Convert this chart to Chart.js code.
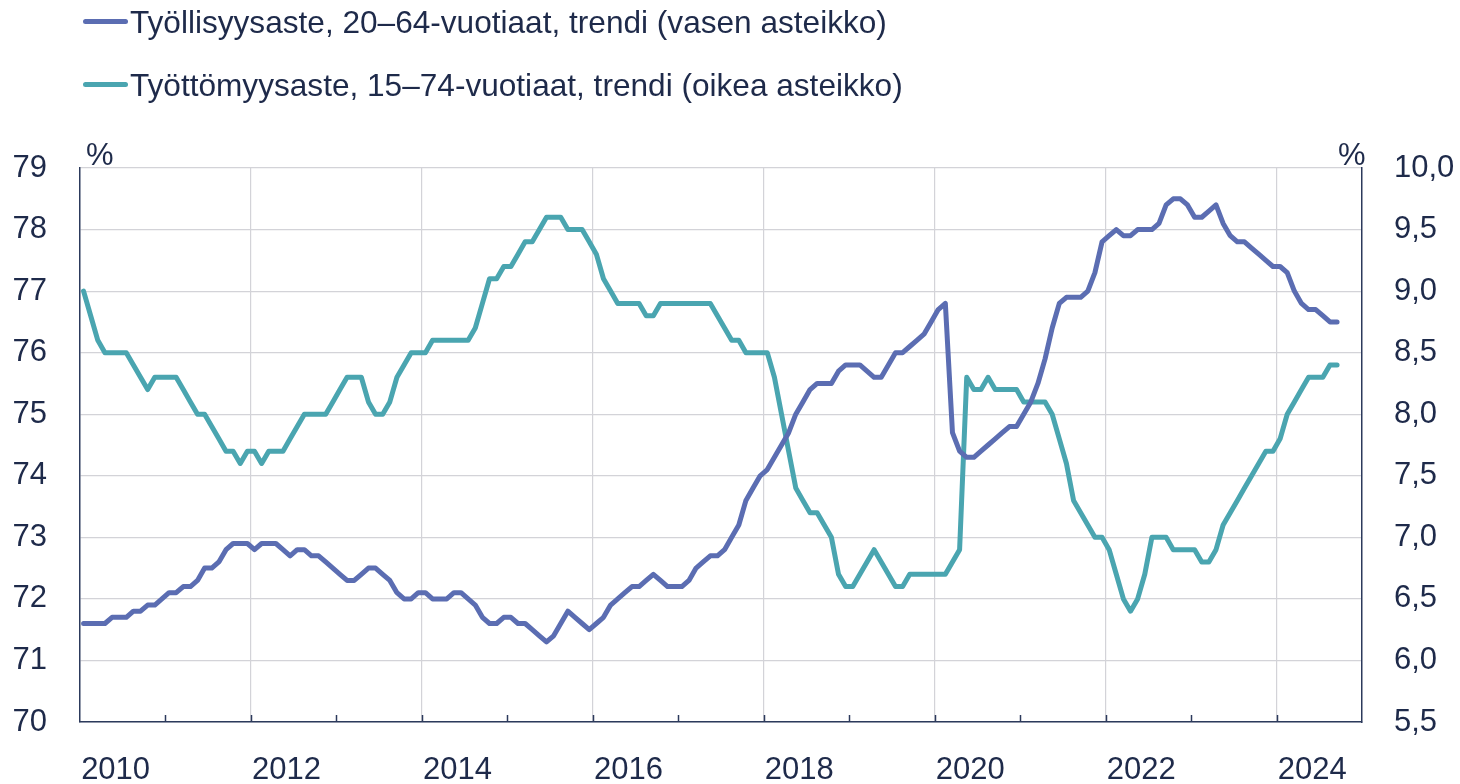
<!DOCTYPE html>
<html lang="fi">
<head>
<meta charset="utf-8">
<title>Työllisyysaste ja työttömyysaste</title>
<script src="https://cdn.jsdelivr.net/npm/chart.js@4.4.1/dist/chart.umd.min.js"></script>
<style>
  html, body { margin: 0; padding: 0; background: #fff; }
  #wrap { position: relative; width: 1460px; height: 784px; overflow: hidden;
          font-family: "Liberation Sans", Arial, sans-serif; color: #1e2a4a; }
  #chart { position: absolute; left: 0; top: 0; }
  .legend-item { position: absolute; left: 83px; height: 44px; line-height: 44px;
                 font-size: 31.6px; white-space: nowrap; padding-left: 47px; }
  .legend-item .swatch { position: absolute; left: 0; top: 19px; width: 45px; height: 5px; border-radius: 3px; }
  .unit { position: absolute; top: 139px; font-size: 31px; line-height: 31px; }
</style>
</head>
<body>
<div id="wrap">
  <canvas id="chart" width="1460" height="784"></canvas>
  <div class="legend-item" style="top:0"><span class="swatch" style="background:#5b6db2"></span>Työllisyysaste, 20–64-vuotiaat, trendi (vasen asteikko)</div>
  <div class="legend-item" style="top:63px"><span class="swatch" style="background:#4aa5b0"></span>Työttömyysaste, 15–74-vuotiaat, trendi (oikea asteikko)</div>
  <div class="unit" style="left:86px">%</div>
  <div class="unit" style="left:1338px">%</div>
</div>
<script>
// monthly trend values, Jan 2010 onwards
const yearLabels = ["2010", "2012", "2014", "2016", "2018", "2020", "2022", "2024"];

const employment = [
  71.6, 71.6, 71.6, 71.6, 71.7, 71.7, 71.7, 71.8, 71.8, 71.9,
  71.9, 72.0, 72.1, 72.1, 72.2, 72.2, 72.3, 72.5, 72.5, 72.6,
  72.8, 72.9, 72.9, 72.9, 72.8, 72.9, 72.9, 72.9, 72.8, 72.7,
  72.8, 72.8, 72.7, 72.7, 72.6, 72.5, 72.4, 72.3, 72.3, 72.4,
  72.5, 72.5, 72.4, 72.3, 72.1, 72.0, 72.0, 72.1, 72.1, 72.0,
  72.0, 72.0, 72.1, 72.1, 72.0, 71.9, 71.7, 71.6, 71.6, 71.7,
  71.7, 71.6, 71.6, 71.5, 71.4, 71.3, 71.4, 71.6, 71.8, 71.7,
  71.6, 71.5, 71.6, 71.7, 71.9, 72.0, 72.1, 72.2, 72.2, 72.3,
  72.4, 72.3, 72.2, 72.2, 72.2, 72.3, 72.5, 72.6, 72.7, 72.7,
  72.8, 73.0, 73.2, 73.6, 73.8, 74.0, 74.1, 74.3, 74.5, 74.7,
  75.0, 75.2, 75.4, 75.5, 75.5, 75.5, 75.7, 75.8, 75.8, 75.8,
  75.7, 75.6, 75.6, 75.8, 76.0, 76.0, 76.1, 76.2, 76.3, 76.5,
  76.7, 76.8, 74.7, 74.4, 74.3, 74.3, 74.4, 74.5, 74.6, 74.7,
  74.8, 74.8, 75.0, 75.2, 75.5, 75.9, 76.4, 76.8, 76.9, 76.9,
  76.9, 77.0, 77.3, 77.8, 77.9, 78.0, 77.9, 77.9, 78.0, 78.0,
  78.0, 78.1, 78.4, 78.5, 78.5, 78.4, 78.2, 78.2, 78.3, 78.4,
  78.1, 77.9, 77.8, 77.8, 77.7, 77.6, 77.5, 77.4, 77.4, 77.3,
  77.0, 76.8, 76.7, 76.7, 76.6, 76.5, 76.5
];

const unemployment = [
  9.0, 8.8, 8.6, 8.5, 8.5, 8.5, 8.5, 8.4, 8.3, 8.2,
  8.3, 8.3, 8.3, 8.3, 8.2, 8.1, 8.0, 8.0, 7.9, 7.8,
  7.7, 7.7, 7.6, 7.7, 7.7, 7.6, 7.7, 7.7, 7.7, 7.8,
  7.9, 8.0, 8.0, 8.0, 8.0, 8.1, 8.2, 8.3, 8.3, 8.3,
  8.1, 8.0, 8.0, 8.1, 8.3, 8.4, 8.5, 8.5, 8.5, 8.6,
  8.6, 8.6, 8.6, 8.6, 8.6, 8.7, 8.9, 9.1, 9.1, 9.2,
  9.2, 9.3, 9.4, 9.4, 9.5, 9.6, 9.6, 9.6, 9.5, 9.5,
  9.5, 9.4, 9.3, 9.1, 9.0, 8.9, 8.9, 8.9, 8.9, 8.8,
  8.8, 8.9, 8.9, 8.9, 8.9, 8.9, 8.9, 8.9, 8.9, 8.8,
  8.7, 8.6, 8.6, 8.5, 8.5, 8.5, 8.5, 8.3, 8.0, 7.7,
  7.4, 7.3, 7.2, 7.2, 7.1, 7.0, 6.7, 6.6, 6.6, 6.7,
  6.8, 6.9, 6.8, 6.7, 6.6, 6.6, 6.7, 6.7, 6.7, 6.7,
  6.7, 6.7, 6.8, 6.9, 8.3, 8.2, 8.2, 8.3, 8.2, 8.2,
  8.2, 8.2, 8.1, 8.1, 8.1, 8.1, 8.0, 7.8, 7.6, 7.3,
  7.2, 7.1, 7.0, 7.0, 6.9, 6.7, 6.5, 6.4, 6.5, 6.7,
  7.0, 7.0, 7.0, 6.9, 6.9, 6.9, 6.9, 6.8, 6.8, 6.9,
  7.1, 7.2, 7.3, 7.4, 7.5, 7.6, 7.7, 7.7, 7.8, 8.0,
  8.1, 8.2, 8.3, 8.3, 8.3, 8.4, 8.4
];

const BLUE = "#5b6db2";
const TEAL = "#4aa5b0";
const TEXT = "#1e2a4a";
const AXIS = "#2c3a5c";
const GRID = "#d3d3d8";
const MONTHS = 180; // Jan 2010 .. Dec 2024

// each month occupies one slot, point sits in the middle of it
const toPoints = arr => arr.map((v, i) => ({ x: i + 0.5, y: v }));

// year-boundary marks pointing up into the plot
const innerTicks = {
  id: "innerTicks",
  afterDraw(chart) {
    const { ctx, chartArea, scales } = chart;
    ctx.save();
    ctx.strokeStyle = AXIS;
    ctx.lineWidth = 1.5;
    for (let m = 12; m < MONTHS; m += 12) {
      const px = Math.round(scales.x.getPixelForValue(m)) + 0.5;
      ctx.beginPath();
      ctx.moveTo(px, chartArea.bottom);
      ctx.lineTo(px, chartArea.bottom - 7);
      ctx.stroke();
    }
    ctx.restore();
  }
};

Chart.defaults.font.family = '"Liberation Sans", Arial, sans-serif';
Chart.defaults.color = TEXT;

new Chart(document.getElementById("chart"), {
  type: "line",
  data: {
    datasets: [
      { label: "Työllisyysaste, 20–64-vuotiaat, trendi (vasen asteikko)", data: toPoints(employment),
        yAxisID: "y", borderColor: BLUE, borderWidth: 5 },
      { label: "Työttömyysaste, 15–74-vuotiaat, trendi (oikea asteikko)", data: toPoints(unemployment),
        yAxisID: "y1", borderColor: TEAL, borderWidth: 5 }
    ]
  },
  options: {
    responsive: false,
    animation: false,
    layout: { padding: { top: 168, left: 0, right: 0, bottom: 0 } },
    elements: {
      point: { radius: 0 },
      line: { tension: 0, borderJoinStyle: "round", borderCapStyle: "round" }
    },
    plugins: { legend: { display: false }, tooltip: { enabled: false } },
    scales: {
      x: {
        type: "linear", min: 0, max: MONTHS,
        afterBuildTicks: s => {
          const t = [];
          for (let m = 0; m <= MONTHS; m += 12) t.push({ value: m });
          yearLabels.forEach((_, i) => t.push({ value: 5 + i * 24 }));
          s.ticks = t.sort((a, b) => a.value - b.value);
        },
        afterFit: s => { s.height = 62; },
        grid: {
          drawTicks: false,
          color: c => (c.tick && c.tick.value % 24 === 0 && c.tick.value > 0 && c.tick.value < MONTHS) ? GRID : "rgba(0,0,0,0)",
          lineWidth: 1.2
        },
        border: { color: AXIS, width: 1.5 },
        ticks: {
          autoSkip: false, maxRotation: 0, padding: 30,
          font: { size: 31 },
          callback: v => ((v - 5) % 24 === 0 ? yearLabels[(v - 5) / 24] : "")
        }
      },
      y: {
        position: "left", min: 70, max: 79,
        afterFit: s => { s.width = 80; },
        grid: { color: GRID, lineWidth: 1.2, drawTicks: false },
        border: { color: AXIS, width: 1.5 },
        ticks: { stepSize: 1, padding: 33, font: { size: 31 } }
      },
      y1: {
        position: "right", min: 5.5, max: 10,
        afterFit: s => { s.width = 98; },
        grid: { drawOnChartArea: false, drawTicks: false },
        border: { color: AXIS, width: 1.5 },
        ticks: { stepSize: 0.5, padding: 32, font: { size: 31 },
                 callback: v => v.toFixed(1).replace(".", ",") }
      }
    }
  },
  plugins: [innerTicks]
});
</script>
</body>
</html>
